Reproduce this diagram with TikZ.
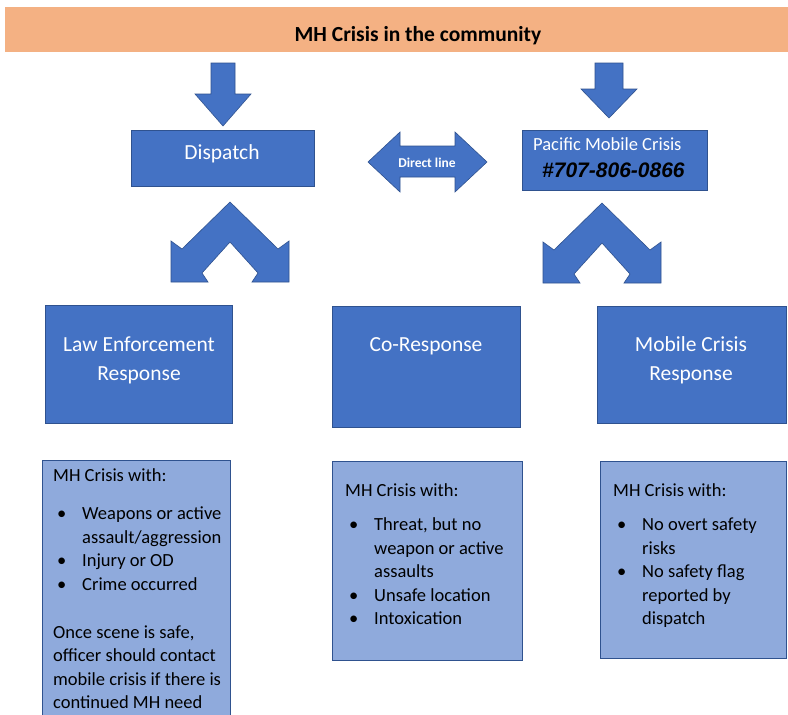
\documentclass[tikz,border=0pt]{standalone}
\usepackage{fontspec}
\setmainfont{Carlito}
\newfontfamily\phonefont{Liberation Sans}
\definecolor{boxblue}{HTML}{4472C4}
\definecolor{boxedge}{HTML}{2F528F}
\definecolor{noteblue}{HTML}{8FAADC}
\definecolor{bannerorange}{HTML}{F4B183}
\newcommand{\bul}{\hspace*{4pt}\makebox[25pt][l]{\textbullet}}
\newcommand{\ind}{\hspace*{29pt}}
\tikzset{
  bluebox/.style={rectangle, fill=boxblue, draw=boxedge, line width=0.8pt, anchor=north west, inner sep=0pt},
  notebox/.style={rectangle, fill=noteblue, draw=boxedge, line width=0.8pt, anchor=north west, inner sep=0pt},
  blockarrow/.style={fill=boxblue, draw=boxedge, line width=0.6pt, line join=miter},
  labeltext/.style={text=white, font=\fontsize{21.5}{29}\selectfont, align=center, inner sep=0pt},
  notetext/.style={anchor=north west, inner sep=0pt, align=left, font=\fontsize{18.5}{23.5}\selectfont}
}
\begin{document}
\begin{tikzpicture}[x=1pt, y=-1pt]
    \useasboundingbox (0,0) rectangle (788,715);
    \fill[white] (0,0) rectangle (788,715);

    % Banner across the top
    \node[fill=bannerorange, minimum width=783pt, minimum height=45pt, anchor=north west, inner sep=0pt] (banner) at (5,7) {};
    \node[font=\fontsize{21.5}{26}\selectfont\bfseries, inner sep=0pt] (title) at (418,36) {MH Crisis in the community};

    % Down arrows from the banner
    \draw[blockarrow] (211,63) -- (235,63) -- (235,94) -- (251,94) -- (223,126) -- (195,94) -- (211,94) -- cycle;
    \draw[blockarrow] (595,63) -- (623,63) -- (623,89) -- (637,89) -- (609,118) -- (581,89) -- (595,89) -- cycle;

    % Dispatch and mobile crisis line
    \node[bluebox, minimum width=183pt, minimum height=56pt] (dispatch) at (131,130) {};
    \node[labeltext] (dispatchlbl) at (222,154) {Dispatch};

    \node[bluebox, minimum width=185pt, minimum height=60pt] (pacific) at (522,130) {};
    \node[text=white, font=\fontsize{18.5}{22}\selectfont, anchor=west, inner sep=0pt] (pacificlbl) at (533,144) {Pacific Mobile Crisis};
    \node[font=\fontsize{21}{24}\phonefont\bfseries\itshape, anchor=west, inner sep=0pt] (phone) at (542,170) {\#707-806-0866};

    % Direct line between them
    \draw[blockarrow] (368,162) -- (400,132) -- (400,146) -- (455,146) -- (455,132) -- (487,162)
        -- (455,192) -- (455,177) -- (400,177) -- (400,192) -- cycle;
    \node[text=white, font=\fontsize{13.5}{16}\selectfont\bfseries, inner sep=0pt] (directlbl) at (427,163) {Direct line};

    % Split arrows
    \foreach \cx/\cy in {230/202, 602/203} {
        \draw[blockarrow, shift={(\cx,\cy)}] (0,0) -- (48,47) -- (59,39) -- (59,80) -- (22,80) -- (28,71) -- (0,40)
            -- (-28,71) -- (-22,80) -- (-59,80) -- (-59,39) -- (-48,47) -- cycle;
    }

    % Response boxes
    \node[bluebox, minimum width=187pt, minimum height=118pt] (lawresp) at (45,305) {};
    \node[labeltext] (lawlbl) at (139,360) {Law Enforcement\\Response};

    \node[bluebox, minimum width=188pt, minimum height=121pt] (coresp) at (332,306) {};
    \node[labeltext] (colbl) at (426,346) {Co-Response};

    \node[bluebox, minimum width=189pt, minimum height=117pt] (mobresp) at (597,306) {};
    \node[labeltext] (moblbl) at (691,360) {Mobile Crisis\\Response};

    % Criteria notes
    \node[notebox, minimum width=188pt, minimum height=262pt] (lawnote) at (42,460) {};
    \node[notetext] (lawtext) at (53,468.5) {MH Crisis with:\\[14.5pt]
        \bul Weapons or active\\
        \ind assault/aggression\\
        \bul Injury or OD\\
        \bul Crime occurred\\[24.5pt]
        Once scene is safe,\\
        officer should contact\\
        mobile crisis if there is\\
        continued MH need};

    \node[notebox, minimum width=190pt, minimum height=199pt] (conote) at (332,461) {};
    \node[notetext] (cotext) at (345,483.5) {MH Crisis with:\\[10.5pt]
        \bul Threat, but no\\
        \ind weapon or active\\
        \ind assaults\\
        \bul Unsafe location\\
        \bul Intoxication};

    \node[notebox, minimum width=186pt, minimum height=197pt] (mobnote) at (600,461) {};
    \node[notetext] (mobtext) at (613,483.5) {MH Crisis with:\\[10.5pt]
        \bul No overt safety\\
        \ind risks\\
        \bul No safety flag\\
        \ind reported by\\
        \ind dispatch};
\end{tikzpicture}
\end{document}
